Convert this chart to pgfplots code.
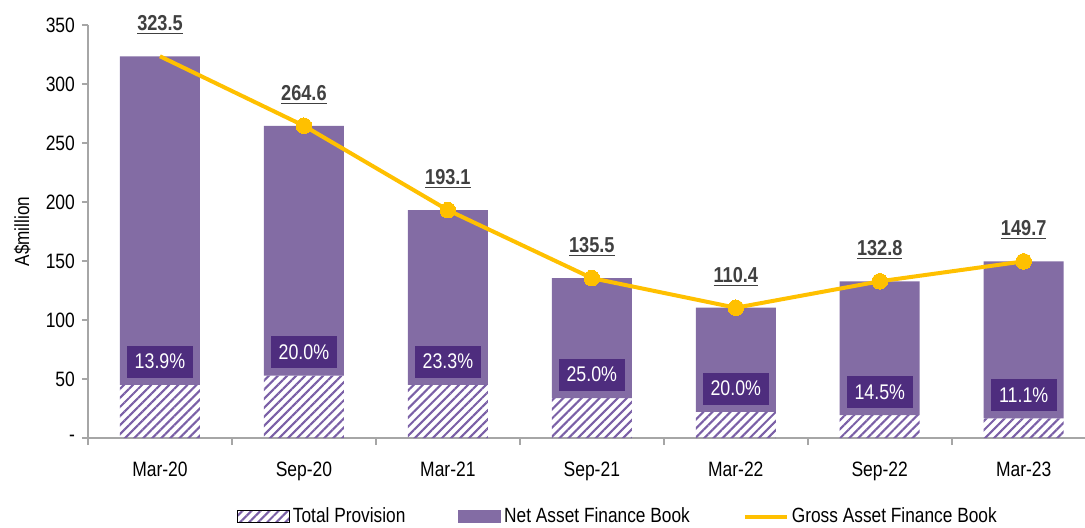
\documentclass[border=0pt]{standalone}
\usepackage{fontspec}
\setmainfont{Liberation Sans}[FakeStretch=0.84]
\usepackage{pgfplots}
\pgfplotsset{compat=1.18}
\usetikzlibrary{patterns.meta}

\definecolor{netpurple}{HTML}{836CA4}
\definecolor{boxpurple}{HTML}{4E2D7E}
\definecolor{hatchpurple}{HTML}{7A5FA6}
\definecolor{gold}{HTML}{FFC000}
\definecolor{axisgray}{HTML}{A6A6A6}
\definecolor{labelgray}{HTML}{404040}

\tikzset{hatch/.style={pattern={Lines[angle=45,distance=3.2pt,line width=1.05pt]}, pattern color=hatchpurple}}
\pgfplotsset{
  base/.style={
    width=498.5pt, height=206.5pt, scale only axis,
    xmin=-0.5, xmax=6.426, ymin=0, ymax=350,
    /pgf/number format/assume math mode=true,
  },
}

\begin{document}
\begin{tikzpicture}
\begin{axis}[
    base,
    name=ax,
    ybar stacked,
    bar width=40pt,
    axis x line*=bottom,
    axis y line*=left,
    axis line style={draw=axisgray, line width=0.8pt, -},
    ytick={0,50,...,350},
    yticklabels={-,50,100,150,200,250,300,350},
    xtick={0,...,6},
    xticklabels={Mar-20,Sep-20,Mar-21,Sep-21,Mar-22,Sep-22,Mar-23},
    minor xtick={-0.5,0.5,...,5.5},
    major x tick style={draw=none},
    tick align=outside,
    major tick length=3pt,
    minor tick length=3.5pt,
    tick style={draw=axisgray, line width=0.8pt},
    tick label style={font=\fontsize{10.4}{12}\selectfont, text=black},
    xticklabel style={yshift=-5.5pt},
    ylabel={A\$million},
    ylabel style={at={(axis description cs:-0.066,0.5)}, anchor=center, font=\fontsize{10.2}{12}\selectfont},
]
% Total Provision (bottom)
\addplot[hatch, draw=none] coordinates {
    (0,45.0) (1,52.9) (2,45.0) (3,33.9) (4,22.1) (5,19.3) (6,16.6)
};
% Net Asset Finance Book
\addplot[fill=netpurple, draw=none] coordinates {
    (0,278.5) (1,211.7) (2,148.1) (3,101.6) (4,88.3) (5,113.5) (6,133.1)
};
\end{axis}

\begin{axis}[
    base,
    hide axis,
    clip=false,
    legend columns=3,
    legend style={
        draw=none, fill=none,
        at={(0.532,-0.191)}, anchor=center,
        font=\fontsize{10.3}{12}\selectfont,
        /tikz/every even column/.append style={column sep=25pt},
        nodes={inner sep=1.5pt},
    },
]
\addlegendimage{legend image code/.code={\fill[hatch] (0pt,-3pt) rectangle (26pt,3pt);}}
\addlegendentry{Total Provision}
\addlegendimage{legend image code/.code={\fill[netpurple] (0pt,-3pt) rectangle (21pt,3pt);}}
\addlegendentry{Net Asset Finance Book}

% Gross Asset Finance Book
\addplot[gold, line width=2pt, mark=*, mark size=3.9pt,
    mark options={fill=gold, draw=gold, line width=0pt},
    mark indices={2,3,4,5,6,7},
    legend image code/.code={\draw[gold, line width=2pt] (0pt,0pt) -- (21pt,0pt);}]
coordinates {
    (0,323.5) (1,264.6) (2,193.1) (3,135.5) (4,110.4) (5,132.8) (6,149.7)
};
\addlegendentry{Gross Asset Finance Book}

% value labels
\addplot[draw=none, mark=none, forget plot, point meta=y,
    nodes near coords={\underline{\pgfmathprintnumber[fixed,fixed zerofill,precision=1]{\pgfplotspointmeta}}},
    every node near coord/.append style={font=\bfseries\fontsize{10.8}{12}\selectfont, text=labelgray, anchor=center, yshift=15.5pt}]
coordinates {
    (0,323.5) (1,264.6) (2,193.1) (3,135.5) (4,110.4) (5,132.8) (6,149.7)
};

% provision share boxes
\addplot[draw=none, mark=none, forget plot, point meta=explicit symbolic,
    nodes near coords,
    every node near coord/.append style={font=\fontsize{10.6}{12}\selectfont, text=white, fill=boxpurple,
        minimum width=33pt, minimum height=16pt, inner sep=0pt, anchor=south, yshift=3.5pt}]
coordinates {
    (0,45.0)[13.9\%] (1,52.9)[20.0\%] (2,45.0)[23.3\%] (3,33.9)[25.0\%]
    (4,22.1)[20.0\%] (5,19.3)[14.5\%] (6,16.6)[11.1\%]
};
\end{axis}

\pgfresetboundingbox
\path[use as bounding box] (ax.south west) ++(-44pt,-44.5pt) rectangle ++(542.5pt,263.5pt);
\end{tikzpicture}
\end{document}
